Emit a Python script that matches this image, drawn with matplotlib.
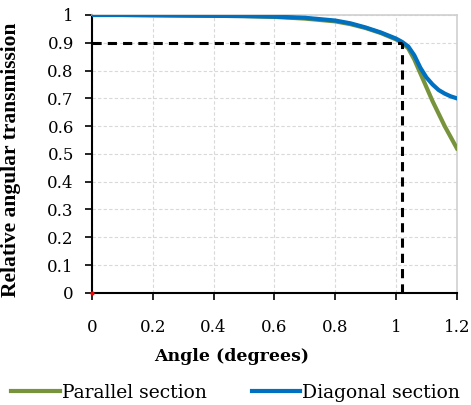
import matplotlib
matplotlib.use("Agg")
import matplotlib.pyplot as plt

# data
angle = [0, 0.1, 0.2, 0.3, 0.4, 0.5, 0.6, 0.7, 0.8, 0.85, 0.9, 0.95, 1.0,
         1.02, 1.04, 1.06, 1.08, 1.1, 1.12, 1.14, 1.16, 1.18, 1.2]
parallel = [1, 1, 0.999, 0.998, 0.997, 0.996, 0.993, 0.987, 0.977, 0.967,
            0.953, 0.935, 0.912, 0.90, 0.88, 0.84, 0.79, 0.74, 0.69, 0.645,
            0.60, 0.56, 0.52]
diagonal = [1, 1, 0.999, 0.998, 0.997, 0.996, 0.994, 0.99, 0.98, 0.97,
            0.955, 0.937, 0.915, 0.903, 0.887, 0.855, 0.81, 0.775, 0.75,
            0.73, 0.717, 0.707, 0.70]
cut_angle = 1.018
cut_level = 0.9
xticks = [0, 0.2, 0.4, 0.6, 0.8, 1, 1.2]
yticks = [0, 0.1, 0.2, 0.3, 0.4, 0.5, 0.6, 0.7, 0.8, 0.9, 1]

fig = plt.figure(figsize=(4.71, 4.05), dpi=100)
ax = fig.add_axes([0.195, 0.277, 0.775, 0.686])

ax.plot(angle, parallel, color='#77933C', lw=3, label='Parallel section', zorder=3)
ax.plot(angle, diagonal, color='#0070C0', lw=3, label='Diagonal section', zorder=4)
ax.plot([0, cut_angle], [cut_level, cut_level], color='black', lw=2.2,
        ls=(0, (3, 2)), zorder=5)
ax.plot([cut_angle, cut_angle], [0, cut_level], color='black', lw=2.2,
        ls=(0, (3, 2)), zorder=5)
ax.plot([0], [0], 'o', color='red', ms=2, zorder=6, clip_on=False)

ax.set_xlim(0, 1.2)
ax.set_ylim(0, 1)
ax.set_xticks(xticks)
ax.set_yticks(yticks)
ax.set_xticklabels([f'{t:g}' for t in xticks], family='DejaVu Serif', fontsize=12)
ax.set_yticklabels([f'{t:g}' for t in yticks], family='DejaVu Serif', fontsize=12)
ax.tick_params(axis='both', direction='out', length=5, width=1.2, colors='black')
ax.tick_params(axis='x', pad=14)
ax.tick_params(axis='y', pad=8)

ax.grid(True, color='#d9d9d9', ls=(0, (3, 2)), lw=0.8)
ax.set_axisbelow(True)
for s in ['left', 'bottom']:
    ax.spines[s].set_color('black')
    ax.spines[s].set_linewidth(1.5)
for s in ['top', 'right']:
    ax.spines[s].set_color('#d0d0d0')
    ax.spines[s].set_linewidth(1.2)

ax.set_xlabel('Angle (degrees)', family='DejaVu Serif', fontweight='bold',
              fontsize=12.5)
ax.xaxis.set_label_coords(0.384, -0.198)
ax.set_ylabel('Relative angular transmission', family='Liberation Serif',
              fontweight='bold', fontsize=15.5)
ax.yaxis.set_label_coords(-0.195, 0.48)

fig.legend(loc='center', ncol=2, frameon=False, bbox_to_anchor=(0.5, 1 - 393 / 405),
           prop={'family': 'DejaVu Serif', 'size': 13.5}, handlelength=2.6,
           handletextpad=0.1, columnspacing=2.4, borderpad=0)

fig.savefig('out.png', dpi=100)
